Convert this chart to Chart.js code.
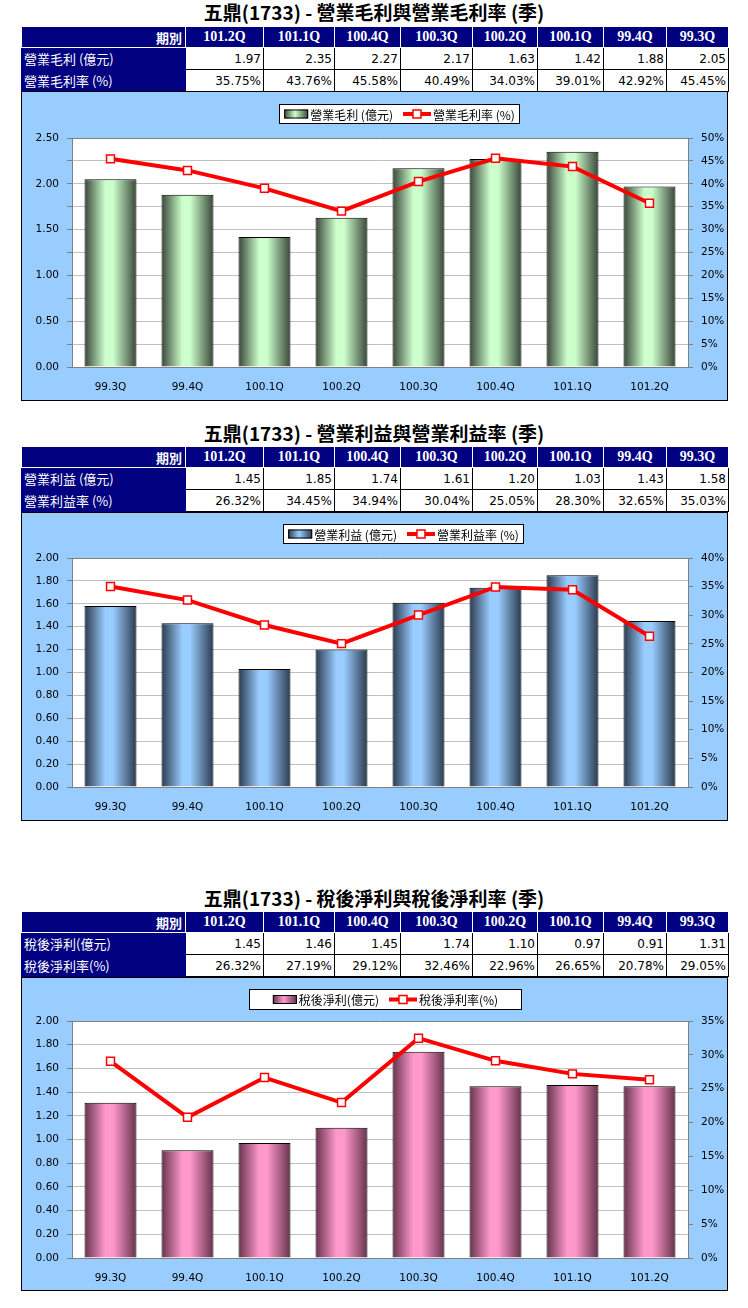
<!DOCTYPE html>
<html>
<head>
<meta charset="utf-8">
<script src="https://cdn.jsdelivr.net/npm/chart.js@4/dist/chart.umd.min.js"></script>
<style>
body { margin: 0; width: 748px; height: 1308px; position: relative; background: #fff; }
.title { position: absolute; left: 0; width: 748px; text-align: center; font: bold 19px "Noto Sans CJK TC", sans-serif; line-height: 24px; color: #000; }
table { position: absolute; left: 21px; width: 707px; border-collapse: collapse; table-layout: fixed; }
th { background: #000080; color: #fff; font: bold 14px "Liberation Serif", "Noto Sans CJK TC", serif; text-align: center; border: 1px solid #fff; height: 20px; padding: 0; }
th.first { text-align: right; padding-right: 3px; font-family: "Noto Sans CJK TC", sans-serif; font-size: 13px; }
td { font: 12px "DejaVu Sans", sans-serif; text-align: right; border: 1px solid #000; height: 21px; padding: 0 2px 0 0; background: #fff; }
td.lab { background: #000080; color: #fff; text-align: left; font: 13px "Noto Sans CJK TC", sans-serif; padding-left: 2px; border-color: #000080; }
.panel { position: absolute; left: 21px; width: 705px; background: #99ccff; border: 1px solid #000; }
canvas { display: block; }
</style>
</head>
<body>
<div class="title" style="top:0px">五鼎(1733) - 營業毛利與營業毛利率 (季)</div>
<table id="t1" style="top:26px"></table>
<div class="panel" style="top:91px;height:308px"><canvas id="c1" width="705" height="308"></canvas></div>

<div class="title" style="top:421px">五鼎(1733) - 營業利益與營業利益率 (季)</div>
<table id="t2" style="top:446px"></table>
<div class="panel" style="top:512px;height:307px"><canvas id="c2" width="705" height="307"></canvas></div>

<div class="title" style="top:886px">五鼎(1733) - 稅後淨利與稅後淨利率 (季)</div>
<table id="t3" style="top:911px"></table>
<div class="panel" style="top:977px;height:312px"><canvas id="c3" width="705" height="312"></canvas></div>

<script>
// 季別 (圖表由舊到新, 表格由新到舊)
const quarters = ['99.3Q', '99.4Q', '100.1Q', '100.2Q', '100.3Q', '100.4Q', '101.1Q', '101.2Q'];

const grossProfit = [2.05, 1.88, 1.42, 1.63, 2.17, 2.27, 2.35, 1.97];
const grossMargin = [45.45, 42.92, 39.01, 34.03, 40.49, 45.58, 43.76, 35.75];

const opIncome = [1.58, 1.43, 1.03, 1.20, 1.61, 1.74, 1.85, 1.45];
const opMargin = [35.03, 32.65, 28.30, 25.05, 30.04, 34.94, 34.45, 26.32];

const netIncome = [1.31, 0.91, 0.97, 1.10, 1.74, 1.45, 1.46, 1.45];
const netMargin = [29.05, 20.78, 26.65, 22.96, 32.46, 29.12, 27.19, 26.32];

const colWidths = [164, 78, 71, 66, 72, 65, 66, 63, 62];

function buildTable(id, label1, label2, vals, rates) {
    const t = document.getElementById(id);
    let html = '<colgroup>' + colWidths.map(w => '<col style="width:' + w + 'px">').join('') + '</colgroup>';
    const order = quarters.map((q, i) => i).reverse();
    html += '<tr><th class="first">期別</th>' + order.map(i => '<th>' + quarters[i] + '</th>').join('') + '</tr>';
    html += '<tr><td class="lab">' + label1 + '</td>' + order.map(i => '<td>' + vals[i].toFixed(2) + '</td>').join('') + '</tr>';
    html += '<tr><td class="lab">' + label2 + '</td>' + order.map(i => '<td>' + rates[i].toFixed(2) + '%</td>').join('') + '</tr>';
    t.innerHTML = html;
}

buildTable('t1', '營業毛利 (億元)', '營業毛利率 (%)', grossProfit, grossMargin);
buildTable('t2', '營業利益 (億元)', '營業利益率 (%)', opIncome, opMargin);
buildTable('t3', '稅後淨利(億元)', '稅後淨利率(%)', netIncome, netMargin);

const BAR_PCT = 0.675;

function barFill(light, dark) {
    return (c) => {
        const chart = c.chart;
        if (!chart.chartArea || c.type !== 'data') return light;
        const xs = chart.scales.x;
        const cx = xs.getPixelForValue(c.dataIndex);
        const w = xs.width / chart.data.labels.length * BAR_PCT;
        const g = chart.ctx.createLinearGradient(cx - w / 2, 0, cx + w / 2, 0);
        g.addColorStop(0, dark);
        g.addColorStop(0.4, light);
        g.addColorStop(0.55, light);
        g.addColorStop(1, dark);
        return g;
    };
}

// 繪圖區白底
const plotBg = {
    id: 'plotBg',
    beforeDraw(chart) {
        const a = chart.chartArea;
        const ctx = chart.ctx;
        ctx.save();
        ctx.fillStyle = '#fff';
        ctx.fillRect(a.left, a.top, a.right - a.left, a.bottom - a.top);
        ctx.restore();
    }
};

const legendBox = {
    id: 'legendBox',
    afterDraw(chart, args, o) {
        const ctx = chart.ctx;
        ctx.save();
        ctx.fillStyle = '#fff';
        ctx.fillRect(o.x, o.y, o.w, o.h);
        ctx.strokeStyle = '#000';
        ctx.lineWidth = 1;
        ctx.strokeRect(o.x + 0.5, o.y + 0.5, o.w - 1, o.h - 1);
        ctx.font = '12px "Noto Sans CJK TC", sans-serif';
        ctx.textBaseline = 'middle';
        const ds = chart.data.datasets;
        const t1 = ctx.measureText(ds[0].label).width;
        const t2 = ctx.measureText(ds[1].label).width;
        const total = 26 + t1 + 10 + 30 + t2;
        let x = o.x + (o.w - total) / 2;
        const cy = o.y + o.h / 2;
        // bar swatch
        const g = ctx.createLinearGradient(x, 0, x + 24, 0);
        g.addColorStop(0, o.dark);
        g.addColorStop(0.45, o.light);
        g.addColorStop(1, o.dark);
        ctx.fillStyle = g;
        ctx.fillRect(x, cy - 4.5, 24, 9);
        ctx.strokeRect(x + 0.5, cy - 4, 23, 8);
        x += 26;
        ctx.fillStyle = '#000';
        ctx.fillText(ds[0].label, x, cy + 1);
        x += t1 + 10;
        // line swatch
        ctx.strokeStyle = '#ff0000';
        ctx.lineWidth = 4;
        ctx.beginPath();
        ctx.moveTo(x, cy);
        ctx.lineTo(x + 28, cy);
        ctx.stroke();
        ctx.fillStyle = '#fff';
        ctx.lineWidth = 1.5;
        ctx.fillRect(x + 10, cy - 4, 8, 8);
        ctx.strokeRect(x + 10, cy - 4, 8, 8);
        x += 30;
        ctx.fillStyle = '#000';
        ctx.fillText(ds[1].label, x, cy + 1);
        ctx.restore();
    }
};

const tickFont = { family: '"DejaVu Sans", sans-serif', size: 10.5 };

function makeChart(id, cfg) {
    const ctx = document.getElementById(id).getContext('2d');
    return new Chart(ctx, {
        type: 'bar',
        data: {
            labels: quarters,
            datasets: [
                {
                    type: 'bar',
                    label: cfg.barLabel,
                    data: cfg.bars,
                    yAxisID: 'y',
                    backgroundColor: barFill(cfg.light, cfg.dark),
                    borderColor: '#000',
                    borderWidth: 1,
                    borderSkipped: 'bottom',
                    barPercentage: BAR_PCT,
                    categoryPercentage: 1,
                    order: 2
                },
                {
                    type: 'line',
                    label: cfg.lineLabel,
                    data: cfg.line,
                    yAxisID: 'y1',
                    borderColor: '#ff0000',
                    borderWidth: 4,
                    tension: 0,
                    pointStyle: 'rect',
                    pointRadius: 5.6,
                    pointBorderWidth: 1.5,
                    pointBackgroundColor: '#fff',
                    pointBorderColor: '#ff0000',
                    order: 1
                }
            ]
        },
        options: {
            responsive: false,
            animation: false,
            layout: { padding: { top: cfg.top, left: 0, right: 0, bottom: 0 } },
            plugins: {
                legend: { display: false },
                tooltip: { enabled: false },
                legendBox: cfg.legend
            },
            scales: {
                x: {
                    grid: { display: false },
                    border: { color: '#808080' },
                    ticks: { color: '#000', font: tickFont, padding: 6 },
                    afterFit: (s) => { s.height = cfg.bottom; }
                },
                y: {
                    min: 0,
                    max: cfg.yMax,
                    grid: {
                        color: (c) => (c.tick && Math.abs(c.tick.value - cfg.yMax) < 1e-6) ? '#808080' : '#c0c0c0',
                        tickColor: '#808080',
                        tickLength: 5
                    },
                    border: { color: '#808080' },
                    ticks: {
                        stepSize: cfg.yStep,
                        color: '#000',
                        font: tickFont,
                        padding: 8,
                        callback: (v) => {
                            const r = Math.round(v * 100);
                            return r % Math.round(cfg.yLabelStep * 100) === 0 ? (r / 100).toFixed(2) : '';
                        }
                    },
                    afterFit: (s) => { s.width = 50; }
                },
                y1: {
                    position: 'right',
                    min: 0,
                    max: cfg.y1Max,
                    grid: { drawOnChartArea: false, tickColor: '#808080', tickLength: 5 },
                    border: { color: '#808080' },
                    ticks: { stepSize: 5, color: '#000', font: tickFont, padding: 8, callback: (v) => v + '%' },
                    afterFit: (s) => { s.width = 39; }
                }
            }
        },
        plugins: [plotBg, legendBox]
    });
}

makeChart('c1', {
    barLabel: '營業毛利 (億元)', lineLabel: '營業毛利率 (%)',
    bars: grossProfit, line: grossMargin,
    light: '#ccffcc', dark: '#384638',
    yMax: 2.5, yStep: 0.25, yLabelStep: 0.5, y1Max: 50,
    top: 46, bottom: 33,
    legend: { x: 257, y: 12, w: 241, h: 20, light: '#ccffcc', dark: '#384638' }
});

makeChart('c2', {
    barLabel: '營業利益 (億元)', lineLabel: '營業利益率 (%)',
    bars: opIncome, line: opMargin,
    light: '#99ccff', dark: '#2a3a4e',
    yMax: 2.0, yStep: 0.2, yLabelStep: 0.2, y1Max: 40,
    top: 45, bottom: 33,
    legend: { x: 261, y: 11, w: 241, h: 20, light: '#99ccff', dark: '#2a3a4e' }
});

makeChart('c3', {
    barLabel: '稅後淨利(億元)', lineLabel: '稅後淨利率(%)',
    bars: netIncome, line: netMargin,
    light: '#ff99cc', dark: '#66324c',
    yMax: 2.0, yStep: 0.2, yLabelStep: 0.2, y1Max: 35,
    top: 43, bottom: 32,
    legend: { x: 227, y: 11, w: 273, h: 21, light: '#ff99cc', dark: '#66324c' }
});
</script>
</body>
</html>
